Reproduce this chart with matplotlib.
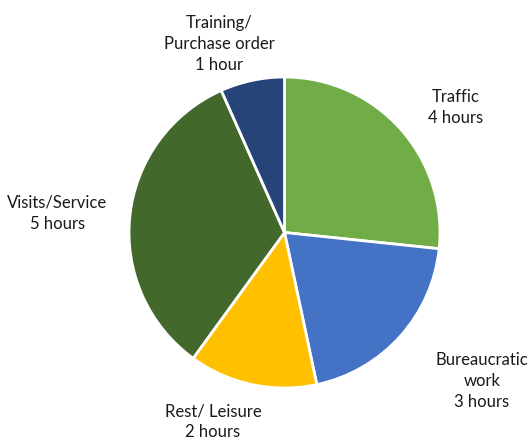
import matplotlib.pyplot as plt

# data
activities = ["Traffic", "Bureaucratic\nwork", "Rest/ Leisure", "Visits/Service", "Training/\nPurchase order"]
hours = [4, 3, 2, 5, 1]
hour_text = ["4 hours", "3 hours", "2 hours", "5 hours", "1 hour"]
colors = ["#70AD47", "#4472C4", "#FFC000", "#43682B", "#264478"]

# label placement (data coords, pie radius = 1)
label_pos = [(1.10, 0.81), (1.27, -0.95), (-0.46, -1.21), (-1.46, 0.13), (-0.42, 1.22)]

plt.rcParams['font.family'] = ['Lato', 'DejaVu Sans']

fig = plt.figure(figsize=(5.29, 4.39), dpi=100)
ax = fig.add_axes([129/529, 50/439, 311/529, 311/439])

ax.pie(hours, colors=colors, startangle=90, counterclock=False,
       wedgeprops=dict(edgecolor="white", linewidth=2))

for (x, y), name, h in zip(label_pos, activities, hour_text):
    ax.text(x, y, name + "\n" + h, ha="center", va="center", fontsize=12,
            color="#1a1a1a", linespacing=1.4, clip_on=False)

ax.set_xlim(-1, 1)
ax.set_ylim(-1, 1)
ax.set_aspect("auto")
ax.axis("off")

fig.savefig("out.png", dpi=100)
